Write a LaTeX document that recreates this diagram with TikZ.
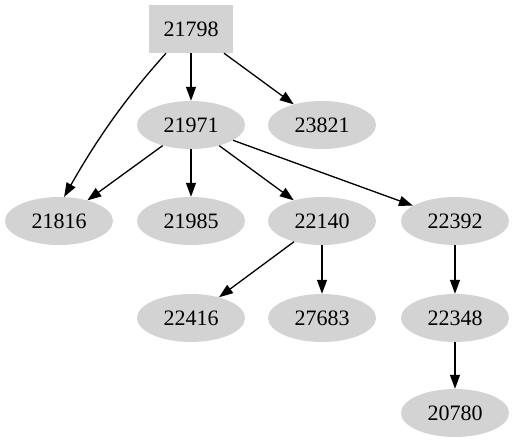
\documentclass[tikz,border=0pt]{standalone}
\usepackage{fontspec}
\setmainfont{Liberation Serif}
\usetikzlibrary{shapes.geometric,arrows.meta}
\begin{document}
\begin{tikzpicture}[x=1pt,y=-1pt,
  gnode/.style={ellipse,fill={rgb,255:red,211;green,211;blue,211},minimum width=108pt,minimum height=48pt,inner sep=0pt,font=\fontsize{22}{26}\selectfont},
  gbox/.style={rectangle,fill={rgb,255:red,211;green,211;blue,211},minimum width=84pt,minimum height=48pt,inner sep=0pt,font=\fontsize{22}{26}\selectfont},
  edge/.style={line width=1.3pt,-{Triangle[length=14pt,width=10pt]}}]
\useasboundingbox (0,0) rectangle (514,443);
\node[gbox] (a) at (191,29) {21798};
\node[gnode] (b) at (191,125) {21971};
\node[gnode] (c) at (322,125) {23821};
\node[gnode] (d) at (59,221) {21816};
\node[gnode] (e) at (191,221) {21985};
\node[gnode] (f) at (322,221) {22140};
\node[gnode] (g) at (455,221) {22392};
\node[gnode] (h) at (191,318) {22416};
\node[gnode] (i) at (322,318) {27683};
\node[gnode] (j) at (455,318) {22348};
\node[gnode] (k) at (455,413) {20780};
\coordinate (a1) at ([xshift=-25pt]a.south);
\draw[edge] (a1) .. controls (135,88) and (105,125) .. (d.78);
\draw[edge] (a) -- (b);
\draw[edge] (a) -- (c);
\draw[edge] (b) -- (d);
\draw[edge] (b) -- (e);
\draw[edge] (b) -- (f);
\draw[edge] (b) -- (g);
\draw[edge] (f) -- (h);
\draw[edge] (f) -- (i);
\draw[edge] (g) -- (j);
\draw[edge] (j) -- (k);
\end{tikzpicture}
\end{document}
